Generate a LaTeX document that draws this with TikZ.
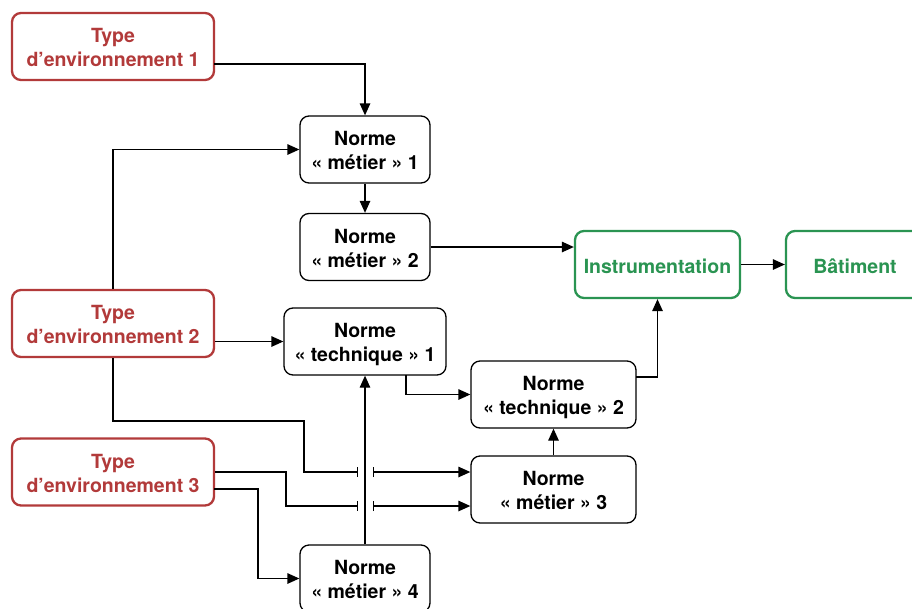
\documentclass[tikz,border=0pt]{standalone}
\usepackage{fontspec}
\setmainfont{TeX Gyre Heros}
\usetikzlibrary{arrows.meta,calc}
\definecolor{envred}{RGB}{178,58,58}
\definecolor{okgreen}{RGB}{42,148,82}
\tikzset{
  box/.style={draw=black, line width=1.3pt, rounded corners=9pt, align=center,
    font=\fontsize{19.5}{24}\selectfont\bfseries, inner sep=0pt, fill=white,
    text height=40.4pt, text depth=0pt},
  envbox/.style={box, draw=envred, text=envred, line width=2.3pt, minimum width=202pt, minimum height=67pt},
  okbox/.style={box, draw=okgreen, text=okgreen, line width=2.3pt, minimum width=165pt, minimum height=67pt,
    text height=17.6pt},
  link/.style={draw=black, line width=1.3pt, -{Triangle[length=12pt,width=10.5pt]}},
  cut/.style={draw=black, line width=1.3pt, -{Bar[width=10pt,line width=1.3pt]}},
  resume/.style={draw=black, line width=1.3pt, {Bar[width=10pt,line width=1.3pt]}-{Triangle[length=12pt,width=10.5pt]}},
}
\begin{document}
\begin{tikzpicture}[x=1pt,y=-1pt]
\useasboundingbox (0,0) rectangle (912,608);
\clip (0,0) rectangle (912,608);
\node[envbox] (env1) at (113,46.5) {Type\\d’environnement 1};
\node[envbox] (env2) at (113,323.5) {Type\\d’environnement 2};
\node[envbox] (env3) at (113,472) {Type\\d’environnement 3};
\node[box, minimum width=130pt, minimum height=67pt] (m1) at (365,149.5) {Norme\\« métier »~1};
\node[box, minimum width=130pt, minimum height=67pt] (m2) at (365,247) {Norme\\« métier »~2};
\node[box, minimum width=162pt, minimum height=67pt] (t1) at (365,341.5) {Norme\\« technique »~1};
\node[box, minimum width=165pt, minimum height=67pt] (t2) at (553.5,394.5) {Norme\\« technique »~2};
\node[box, minimum width=165pt, minimum height=67pt] (m3) at (553.5,489.5) {Norme\\« métier »~3};
\node[box, minimum width=130pt, minimum height=67pt] (m4) at (365,578.5) {Norme\\« métier »~4};
\node[okbox] (ins) at (657.5,264.5) {Instrumentation};
\node[okbox, minimum width=138pt] (bat) at (855,264.5) {Bâtiment};

% coordinates for bends and line jumps
\coordinate (e1out) at (214,64);
\coordinate (a1) at (113,421);
\coordinate (a2) at (304,472);
\coordinate (j1a) at (358,472);
\coordinate (j1b) at (373,472);
\coordinate (b1) at (286,506);
\coordinate (j2a) at (358,506);
\coordinate (j2b) at (373,506);
\coordinate (e3b) at (214,489);
\coordinate (c1) at (258,489);
\coordinate (t1out) at (406,375);
\coordinate (t2out) at (636,377);

\draw[link] (e1out) -| (m1.north);
\draw[link] (env2.north) |- (m1.west);
\draw[link] (m1.south) -- (m2.north);
\draw[link] (m2.east) -- (m2.east -| ins.west);
\draw[link] (ins.east) -- (bat.west);
\draw[link] (t1.west -| env2.east) -- (t1.west);
\draw[cut] (env2.south) -- (a1) -| (a2) -- (j1a);
\draw[resume] (j1b) -- (j1b -| m3.west);
\draw[cut] (env3.east) -| (b1) -- (j2a);
\draw[resume] (j2b) -- (j2b -| m3.west);
\draw[link] (e3b) -- (c1) |- (m4.west);
\draw[link] (m4.north) -- (t1.south);
\draw[link] (t1out) |- (t2.west);
\draw[link] (t2out) -| (ins.south);
\draw[link] (m3.north) -- (t2.south);
\end{tikzpicture}
\end{document}
